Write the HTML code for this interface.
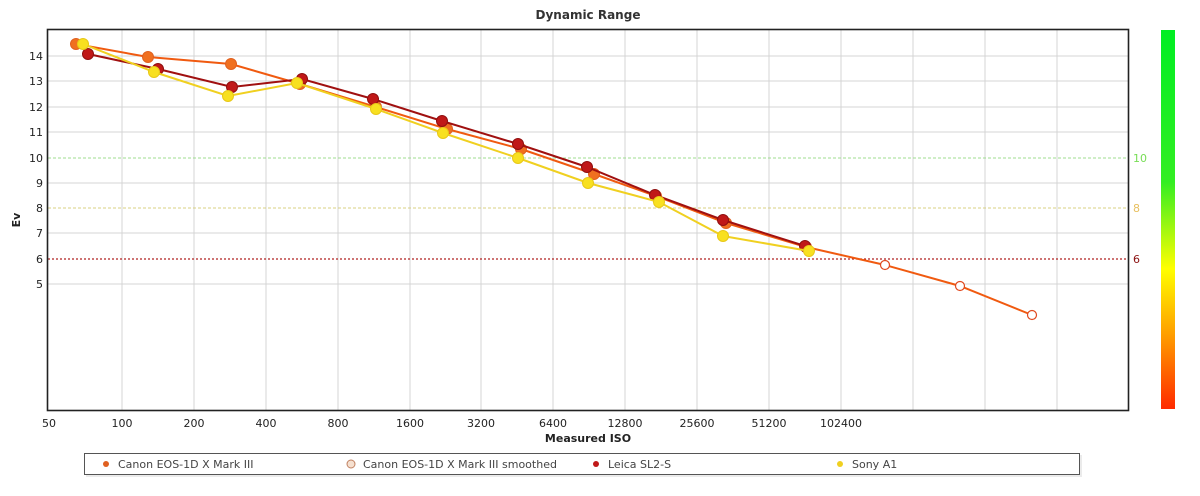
<!DOCTYPE html>
<html><head><meta charset="utf-8"><style>
body{margin:0;background:#fff;}
svg{display:block;font-family:Verdana,"DejaVu Sans",sans-serif;}
</style></head><body>
<svg width="1200" height="496" viewBox="0 0 1200 496" xmlns="http://www.w3.org/2000/svg">
<defs>
<linearGradient id="cb" x1="0" y1="0" x2="0" y2="1">
<stop offset="0" stop-color="#00ee22"/>
<stop offset="0.4" stop-color="#33ee22"/>
<stop offset="0.63" stop-color="#ffff00"/>
<stop offset="0.8" stop-color="#ffa000"/>
<stop offset="1" stop-color="#ff2a00"/>
</linearGradient>
</defs>
<text x="588" y="19" text-anchor="middle" font-size="12" font-weight="bold" fill="#333">Dynamic Range</text>
<g stroke="#d4d4d4" stroke-width="1">
<line x1="122" y1="30" x2="122" y2="410"/><line x1="194" y1="30" x2="194" y2="410"/>
<line x1="266" y1="30" x2="266" y2="410"/><line x1="338" y1="30" x2="338" y2="410"/>
<line x1="410" y1="30" x2="410" y2="410"/><line x1="481" y1="30" x2="481" y2="410"/>
<line x1="553" y1="30" x2="553" y2="410"/><line x1="625" y1="30" x2="625" y2="410"/>
<line x1="697" y1="30" x2="697" y2="410"/><line x1="769" y1="30" x2="769" y2="410"/>
<line x1="841" y1="30" x2="841" y2="410"/><line x1="913" y1="30" x2="913" y2="410"/>
<line x1="985" y1="30" x2="985" y2="410"/><line x1="1057" y1="30" x2="1057" y2="410"/>
<line x1="48" y1="56" x2="1129" y2="56"/><line x1="48" y1="81" x2="1129" y2="81"/>
<line x1="48" y1="107" x2="1129" y2="107"/><line x1="48" y1="132" x2="1129" y2="132"/>
<line x1="48" y1="183" x2="1129" y2="183"/><line x1="48" y1="233" x2="1129" y2="233"/>
<line x1="48" y1="284" x2="1129" y2="284"/>
</g>
<line x1="48" y1="158" x2="1129" y2="158" stroke="#9fdc8f" stroke-dasharray="3,2"/>
<line x1="48" y1="208" x2="1129" y2="208" stroke="#d8d080" stroke-dasharray="3,2"/>
<line x1="48" y1="259" x2="1129" y2="259" stroke="#b02020" stroke-width="1.3" stroke-dasharray="2,2"/>
<rect x="47.5" y="29.5" width="1081" height="381" fill="none" stroke="#222" stroke-width="1.6"/>
<g font-size="11" fill="#222" text-anchor="end">
<text x="43" y="60">14</text><text x="43" y="85">13</text><text x="43" y="111">12</text>
<text x="43" y="136">11</text><text x="43" y="162">10</text><text x="43" y="187">9</text>
<text x="43" y="212">8</text><text x="43" y="237">7</text><text x="43" y="263">6</text><text x="43" y="288">5</text>
</g>
<g font-size="11">
<text x="1133" y="162" fill="#77dd55">10</text>
<text x="1133" y="212" fill="#e8c060">8</text>
<text x="1133" y="263" fill="#8b1010">6</text>
</g>
<g font-size="11" fill="#222" text-anchor="middle">
<text x="49" y="427">50</text><text x="122" y="427">100</text><text x="194" y="427">200</text>
<text x="266" y="427">400</text><text x="338" y="427">800</text><text x="410" y="427">1600</text>
<text x="481" y="427">3200</text><text x="553" y="427">6400</text><text x="625" y="427">12800</text>
<text x="697" y="427">25600</text><text x="769" y="427">51200</text><text x="841" y="427">102400</text>
</g>
<text x="588" y="442" text-anchor="middle" font-size="11" font-weight="bold" fill="#222">Measured ISO</text>
<text transform="translate(20,220) rotate(-90)" text-anchor="middle" font-size="11" font-weight="bold" fill="#222">Ev</text>
<rect x="1161" y="30" width="14" height="379" fill="url(#cb)"/>
<polyline fill="none" stroke="#f05a10" stroke-width="2" points="76,44 148,57 231,64 300,84 376,107 447,129 521,149 594,174 656,196 726,223 806,247 885,265 960,286 1032,315"/>
<g fill="#f07020" stroke="#e06020">
<circle cx="76" cy="44" r="5.5"/><circle cx="148" cy="57" r="5.5"/><circle cx="231" cy="64" r="5.5"/>
<circle cx="300" cy="84" r="5.5"/><circle cx="376" cy="107" r="5.5"/><circle cx="447" cy="129" r="5.5"/>
<circle cx="521" cy="149" r="5.5"/><circle cx="594" cy="174" r="5.5"/><circle cx="656" cy="196" r="5.5"/>
<circle cx="726" cy="223" r="5.5"/><circle cx="806" cy="247" r="5.5"/>
</g>
<g fill="#fff" stroke="#e04a20" stroke-width="1.2">
<circle cx="885" cy="265" r="4.5"/><circle cx="960" cy="286" r="4.5"/><circle cx="1032" cy="315" r="4.5"/>
</g>
<polyline fill="none" stroke="#a01010" stroke-width="2" points="88,54 158,69 232,87 302,79 373,99 442,121 518,144 587,167 655,195 723,220 805,246"/>
<g fill="#c01818" stroke="#901010">
<circle cx="88" cy="54" r="5.5"/><circle cx="158" cy="69" r="5.5"/><circle cx="232" cy="87" r="5.5"/>
<circle cx="302" cy="79" r="5.5"/><circle cx="373" cy="99" r="5.5"/><circle cx="442" cy="121" r="5.5"/>
<circle cx="518" cy="144" r="5.5"/><circle cx="587" cy="167" r="5.5"/><circle cx="655" cy="195" r="5.5"/>
<circle cx="723" cy="220" r="5.5"/><circle cx="805" cy="246" r="5.5"/>
</g>
<polyline fill="none" stroke="#f0d020" stroke-width="2" points="83,44 154,72 228,96 297,83 376,109 443,133 518,158 588,183 659,202 723,236 809,251"/>
<g fill="#f8e020" stroke="#e8c818">
<circle cx="83" cy="44" r="5.5"/><circle cx="154" cy="72" r="5.5"/><circle cx="228" cy="96" r="5.5"/>
<circle cx="297" cy="83" r="5.5"/><circle cx="376" cy="109" r="5.5"/><circle cx="443" cy="133" r="5.5"/>
<circle cx="518" cy="158" r="5.5"/><circle cx="588" cy="183" r="5.5"/><circle cx="659" cy="202" r="5.5"/>
<circle cx="723" cy="236" r="5.5"/><circle cx="809" cy="251" r="5.5"/>
</g>
<rect x="86" y="455" width="996" height="22" fill="#ddd" opacity="0.6"/>
<rect x="84.5" y="453.5" width="995" height="21" fill="#fff" stroke="#555"/>
<g font-size="11" fill="#444">
<circle cx="106" cy="464" r="3" fill="#e06020"/><text x="118" y="468">Canon EOS-1D X Mark III</text>
<circle cx="351" cy="464" r="4" fill="#f5e0d0" stroke="#c08060"/><text x="363" y="468">Canon EOS-1D X Mark III smoothed</text>
<circle cx="596" cy="464" r="3" fill="#c01818"/><text x="608" y="468">Leica SL2-S</text>
<circle cx="840" cy="464" r="3" fill="#f0d020"/><text x="852" y="468">Sony A1</text>
</g>
</svg>
</body></html>
